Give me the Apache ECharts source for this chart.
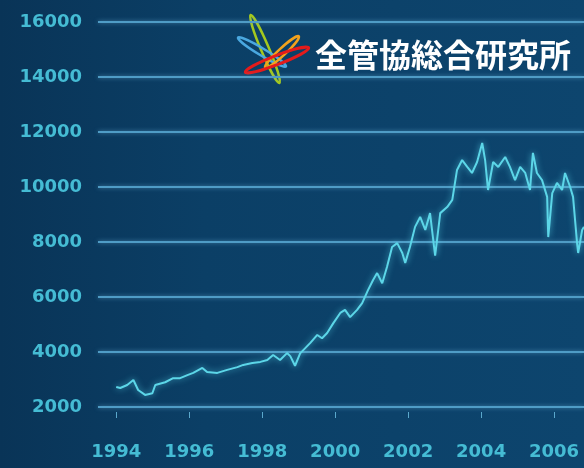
<!DOCTYPE html>
<html>
<head>
<meta charset="utf-8">
<script src="https://cdn.jsdelivr.net/npm/echarts@6/dist/echarts.min.js"></script>
<style>
  html, body { margin: 0; padding: 0; background: #0b3d63; }
  #chart { width: 584px; height: 468px; }
</style>
</head>
<body>
<div id="chart"></div>
<script>
// Index level, 1994 - 2006 (time in decimal years)
const years = [
  1994.0, 1994.11, 1994.3, 1994.47, 1994.6, 1994.79, 1994.99, 1995.07, 1995.34, 1995.56,
  1995.75, 1995.95, 1996.11, 1996.36, 1996.49, 1996.77, 1997.04, 1997.32, 1997.48, 1997.73,
  1997.95, 1998.14, 1998.3, 1998.49, 1998.68, 1998.77, 1998.9, 1999.04, 1999.32, 1999.51,
  1999.64, 1999.78, 1999.95, 2000.14, 2000.27, 2000.41, 2000.6, 2000.74, 2000.9, 2001.04,
  2001.15, 2001.29, 2001.42, 2001.56, 2001.7, 2001.84, 2001.92, 2002.05, 2002.19, 2002.33,
  2002.47, 2002.6, 2002.74, 2002.88, 2003.07, 2003.21, 2003.34, 2003.48, 2003.62, 2003.75,
  2003.89, 2004.03, 2004.11, 2004.19, 2004.33, 2004.47, 2004.66, 2004.79, 2004.93, 2005.07,
  2005.21, 2005.34, 2005.42, 2005.53, 2005.67, 2005.81, 2005.84, 2005.95, 2006.08, 2006.22,
  2006.3, 2006.44, 2006.52, 2006.63, 2006.66, 2006.77, 2006.82
];
const values = [
  2730, 2690, 2800, 2980, 2620, 2440, 2500, 2800, 2900, 3050,
  3050, 3160, 3240, 3420, 3270, 3240, 3350, 3450, 3530, 3600,
  3640, 3710, 3890, 3710, 3960, 3850, 3500, 3950, 4330, 4620,
  4500, 4690, 5050, 5420, 5530, 5270, 5530, 5780, 6250, 6620,
  6870, 6500, 7090, 7820, 7960, 7600, 7240, 7820, 8550, 8910,
  8440, 9050, 7500, 9050, 9270, 9530, 10620, 10980, 10730, 10510,
  10910, 11600, 10980, 9890, 10910, 10730, 11090, 10730, 10250, 10730,
  10510, 9890, 11240, 10510, 10250, 9640, 8180, 9780, 10150, 9890,
  10510, 10000, 9640, 7960, 7600, 8440, 8550
];
const yearTicks = [1994, 1996, 1998, 2000, 2002, 2004, 2006];
const brandName = '全管協総合研究所';

const chart = echarts.init(document.getElementById('chart'), null, { renderer: 'canvas' });

const labelColor = '#45bcd4';
const gridColor = '#4f9cc6';

chart.setOption({
  animation: false,
  backgroundColor: {
    type: 'linear', x: 0, y: 0, x2: 1, y2: 0,
    colorStops: [
      { offset: 0, color: '#093457' },
      { offset: 0.35, color: '#0b3f66' },
      { offset: 1, color: '#0d456e' }
    ]
  },
  grid: { left: 98, right: 0, top: 22, bottom: 61, containLabel: false },
  xAxis: {
    type: 'value',
    min: 1993.5,
    max: 2006.82,
    axisLine: { show: false },
    splitLine: { show: false },
    offset: 5,
    axisTick: {
      show: true,
      customValues: yearTicks,
      length: 6,
      lineStyle: { color: '#5aa8cc', width: 1 }
    },
    axisLabel: {
      customValues: yearTicks,
      margin: 31,
      color: labelColor,
      fontSize: 18,
      fontWeight: 'bold',
      fontFamily: 'DejaVu Sans',
      formatter: v => String(v)
    }
  },
  yAxis: {
    type: 'value',
    min: 2000,
    max: 16000,
    interval: 2000,
    axisLine: { show: false },
    axisTick: { show: false },
    axisLabel: {
      margin: 16,
      color: labelColor,
      fontSize: 18,
      fontWeight: 'bold',
      fontFamily: 'DejaVu Sans',
      formatter: v => String(v)
    },
    splitLine: {
      lineStyle: {
        color: gridColor, width: 2,
        shadowColor: 'rgba(110,180,220,0.6)', shadowBlur: 4
      }
    }
  },
  series: [{
    type: 'line',
    data: years.map((y, i) => [y, values[i]]),
    symbol: 'none',
    smooth: false,
    lineStyle: {
      color: '#5cd6e8',
      width: 2,
      shadowColor: 'rgba(90,220,240,0.7)',
      shadowBlur: 6
    }
  }],
  graphic: [
    // logo: four crossing orbits
    { type: 'ellipse', x: 265, y: 49, rotation: -67 * Math.PI / 180,
      shape: { cx: 0, cy: 0, rx: 37, ry: 4 },
      style: { fill: 'none', stroke: '#a4c81e', lineWidth: 2.5 } },
    { type: 'ellipse', x: 262, y: 52, rotation: -31 * Math.PI / 180,
      shape: { cx: 0, cy: 0, rx: 28, ry: 3.5 },
      style: { fill: 'none', stroke: '#4aa8e0', lineWidth: 2.5 } },
    { type: 'ellipse', x: 282, y: 52, rotation: 43 * Math.PI / 180,
      shape: { cx: 0, cy: 0, rx: 23, ry: 3.5 },
      style: { fill: 'none', stroke: '#f2a21c', lineWidth: 2.5 } },
    { type: 'ellipse', x: 277, y: 60, rotation: 21 * Math.PI / 180,
      shape: { cx: 0, cy: 0, rx: 34, ry: 4.5 },
      style: { fill: 'none', stroke: '#e41b1b', lineWidth: 3 } },
    { type: 'text', x: 315, y: 55,
      style: {
        text: brandName, fill: '#ffffff',
        font: 'bold 32px "Noto Sans CJK JP"',
        verticalAlign: 'middle'
      } }
  ]
});
</script>
</body>
</html>
